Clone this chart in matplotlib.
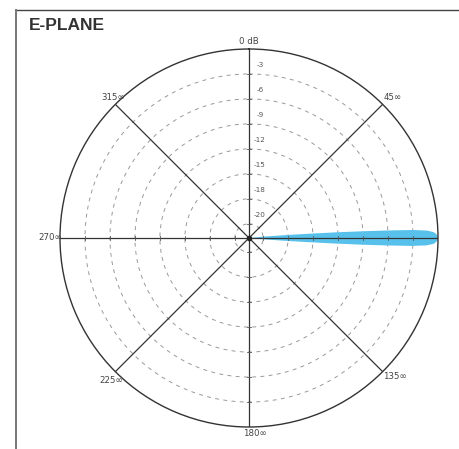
import numpy as np
import matplotlib.pyplot as plt
from matplotlib.lines import Line2D

# radial rings (dB) and their labels
ring_db = [-3, -6, -9, -12, -15, -18, -21]
ring_labels = ['-3', '-6', '-9', '-12', '-15', '-18', '-20']
r_min = -22.7

# spoke angles (deg) and angle labels
spoke_deg = [0, 45, 90, 135]
label_deg = [0, 45, 135, 180, 225, 270, 315]
label_txt = ['0 dB', '45∞', '135∞', '180∞', '225∞', '270∞', '315∞']
label_off = [(0, 8), (10, 7), (12, -5), (6, -7), (-4, -9), (-10, 1), (-2, 7)]

# E-plane beam: offset from 90 deg (deg) and level (dB)
beam_off = [-8, -5.5, -4.5, -4.0, -3.7, -3.4, -3.1, -2.8, -2.4, -1.8, -1.2, -0.6, 0,
            0.6, 1.2, 1.8, 2.4, 2.8, 3.1, 3.4, 3.7, 4.0, 4.5, 5.5, 8]
beam_db = [-22.7, -21, -18, -15, -12, -9, -6, -3, -1.3, -0.5, -0.2, -0.05, 0,
           -0.05, -0.2, -0.5, -1.4, -3.2, -6.2, -9.2, -12.5, -15.5, -18.5, -21.5, -22.7]

fig = plt.figure(figsize=(4.59, 4.49), dpi=100)
ax = fig.add_axes([60 / 459, 22 / 449, 378 / 459, 378 / 449], projection='polar')
ax.set_theta_zero_location('N')
ax.set_theta_direction(-1)
ax.set_rlim(r_min, 0)
ax.grid(False)
ax.set_xticks([])
ax.set_yticks([])
ax.spines['polar'].set_color('#333333')
ax.spines['polar'].set_linewidth(1.0)

th = np.linspace(0, 2 * np.pi, 361)

# beam
b_th = np.deg2rad(90 + np.array(beam_off))
ax.fill(b_th, beam_db, color='#58c1eb', lw=0, zorder=2)

# dashed rings
for lv in ring_db:
    ax.plot(th, np.full_like(th, lv), color='#999999', lw=0.7,
            ls=(0, (4, 4.5)), zorder=1)

# spokes
for d in spoke_deg:
    t = np.deg2rad(d)
    ax.plot([t, t], [0, r_min], color='#333333', lw=0.9, zorder=3)
    ax.plot([t + np.pi, t + np.pi], [0, r_min], color='#333333', lw=0.9, zorder=3)

# small ticks where rings cross the main axes
r_px = 189.0
for lv in ring_db:
    rp = r_px * (lv - r_min) / (0 - r_min)
    dt = 2.0 / rp
    for d in [0, 90, 180, 270]:
        t = np.deg2rad(d)
        ax.plot([t - dt, t + dt], [lv, lv], color='#555555', lw=0.6, zorder=3)

ax.plot([0], [r_min], 'o', color='#222222', ms=3, zorder=4)

# ring labels
for lv, lab in zip(ring_db, ring_labels):
    ax.annotate(lab, xy=(0, lv), xytext=(11, 9), textcoords='offset pixels',
                ha='center', va='center', fontsize=5.2, color='#555555')

# angle labels
for d, lab, off in zip(label_deg, label_txt, label_off):
    ax.annotate(lab, xy=(np.deg2rad(d), 0), xytext=off, textcoords='offset pixels',
                ha='center', va='center', fontsize=6.2, color='#444444',
                annotation_clip=False)

# frame and title
fig.add_artist(Line2D([16 / 459, 1], [1 - 10 / 449, 1 - 10 / 449],
                      color='#444444', lw=1.0, transform=fig.transFigure))
fig.add_artist(Line2D([16 / 459, 16 / 459], [0, 1 - 10 / 449],
                      color='#777777', lw=1.4, transform=fig.transFigure))
fig.text(29 / 459, 1 - 26 / 449, 'E-PLANE', fontsize=12.5, fontweight='bold',
         family='Liberation Sans', color='#333333', ha='left', va='center')

fig.savefig('out.png', dpi=100)
